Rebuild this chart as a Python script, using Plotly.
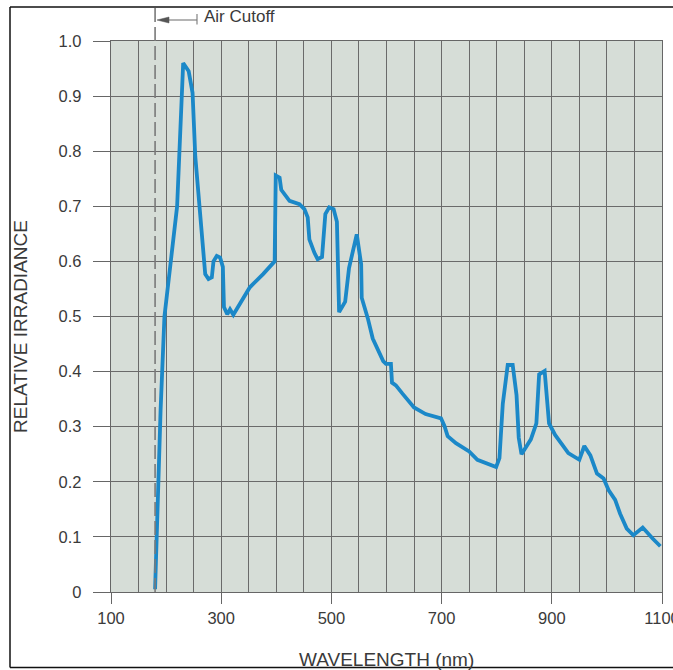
import plotly.graph_objects as go

# ---- data ----
wavelength_nm = [180, 185, 190, 197, 220, 231, 241, 248, 253, 271, 277, 283, 286, 292, 298,
                 303, 305, 311, 316, 322, 334, 352, 376, 397, 399, 406, 409, 424, 442, 451,
                 457, 460, 469, 475, 483, 489, 496, 504, 510, 514, 525, 532, 546, 554, 555,
                 563, 566, 575, 587, 594, 599, 608, 610, 617, 629, 650, 671, 699, 705, 711,
                 726, 750, 765, 786, 799, 805, 811, 820, 829, 836, 840, 845, 853, 862, 872,
                 877, 887, 891, 895, 906, 930, 950, 959, 970, 982, 994, 1003, 1015, 1024,
                 1036, 1048, 1065, 1072, 1083, 1097]
relative_irradiance = [0.005, 0.20, 0.33, 0.50, 0.70, 0.96, 0.945, 0.906, 0.79, 0.577, 0.568,
                       0.571, 0.60, 0.61, 0.607, 0.59, 0.517, 0.504, 0.513, 0.503, 0.523, 0.553,
                       0.577, 0.600, 0.756, 0.752, 0.73, 0.71, 0.704, 0.695, 0.68, 0.64, 0.616,
                       0.604, 0.608, 0.686, 0.698, 0.695, 0.672, 0.508, 0.527, 0.588, 0.649,
                       0.595, 0.534, 0.509, 0.497, 0.46, 0.436, 0.419, 0.414, 0.414, 0.38,
                       0.375, 0.36, 0.335, 0.323, 0.315, 0.302, 0.283, 0.27, 0.255, 0.24, 0.233,
                       0.227, 0.243, 0.341, 0.412, 0.412, 0.357, 0.28, 0.25, 0.262, 0.277, 0.306,
                       0.395, 0.401, 0.36, 0.306, 0.285, 0.252, 0.24, 0.265, 0.248, 0.215, 0.206,
                       0.185, 0.167, 0.142, 0.115, 0.103, 0.117, 0.109, 0.097, 0.083]

x_tick_values = [100, 300, 500, 700, 900, 1100]
x_tick_labels = ["100", "300", "500", "700", "900", "1100"]
y_tick_values = [0, 0.1, 0.2, 0.3, 0.4, 0.5, 0.6, 0.7, 0.8, 0.9, 1.0]
y_tick_labels = ["0", "0.1", "0.2", "0.3", "0.4", "0.5", "0.6", "0.7", "0.8", "0.9", "1.0"]
air_cutoff_nm = 180

x_title = "WAVELENGTH (nm)"
y_title = "RELATIVE IRRADIANCE"
cutoff_label = "Air Cutoff"

# ---- layout geometry (pixels) ----
W, H = 673, 670
L, R, T, B = 111, 11, 41, 78
PW = W - L - R
PH = H - T - B


def px_x(px):
    return (px - L) / PW


def px_y(py):
    return (H - B - py) / PH


FONT = "Liberation Sans, Arial, Helvetica, sans-serif"
TXT = "#3a3a3a"
GRID = "#6a6a6a"

fig = go.Figure()
fig.add_trace(go.Scatter(
    x=wavelength_nm, y=relative_irradiance, mode="lines",
    line=dict(color="#1b88c8", width=3.8), hoverinfo="x+y", showlegend=False,
))

shapes = [
    # air cutoff dashed line
    dict(type="line", xref="x", yref="paper", x0=air_cutoff_nm, x1=air_cutoff_nm,
         y0=0, y1=px_y(8), line=dict(color="#7a7a7a", width=1.6, dash="14px,5px")),
    # arrow shaft
    dict(type="line", xref="paper", yref="paper", x0=px_x(167), x1=px_x(197),
         y0=px_y(20), y1=px_y(20), line=dict(color="#777777", width=1.1)),
    # tail bar
    dict(type="line", xref="paper", yref="paper", x0=px_x(197), x1=px_x(197),
         y0=px_y(14), y1=px_y(24.5), line=dict(color="#777777", width=1.1)),
    # arrow head
    dict(type="path", xref="paper", yref="paper",
         path=f"M {px_x(157)} {px_y(20)} L {px_x(169)} {px_y(17)} L {px_x(169)} {px_y(23)} Z",
         fillcolor="#555555", line=dict(color="#555555", width=0.5)),
    # outer frame lines
    dict(type="line", xref="paper", yref="paper", x0=px_x(10), x1=px_x(680),
         y0=px_y(7), y1=px_y(7), line=dict(color="#111111", width=1.5)),
    dict(type="line", xref="paper", yref="paper", x0=px_x(10), x1=px_x(10),
         y0=px_y(7), y1=px_y(667.5), line=dict(color="#111111", width=1.5)),
    dict(type="line", xref="paper", yref="paper", x0=px_x(10), x1=px_x(680),
         y0=px_y(667.5), y1=px_y(667.5), line=dict(color="#111111", width=1.5)),
]

annotations = [
    dict(text=cutoff_label, xref="paper", yref="paper", x=px_x(202), y=px_y(17),
         xanchor="left", yanchor="middle", showarrow=False,
         font=dict(family=FONT, size=17, color=TXT)),
    dict(text=x_title, xref="paper", yref="paper", x=px_x(386), y=px_y(659),
         xanchor="center", yanchor="middle", showarrow=False,
         font=dict(family=FONT, size=19, color=TXT)),
    dict(text=y_title, xref="paper", yref="paper", x=px_x(20), y=px_y(327),
         xanchor="center", yanchor="middle", showarrow=False, textangle=-90,
         font=dict(family=FONT, size=19, color=TXT)),
]

fig.update_layout(
    width=W, height=H, margin=dict(l=L, r=R, t=T, b=B, pad=0),
    template="none",
    paper_bgcolor="white", plot_bgcolor="#d6ddd7",
    shapes=shapes, annotations=annotations,
    font=dict(family=FONT, size=16.5, color=TXT),
    xaxis=dict(
        range=[100, 1100], tickmode="array", tickvals=x_tick_values, ticktext=x_tick_labels,
        ticks="outside", ticklen=11, tickwidth=1.3, tickcolor="#666666",
        showgrid=True, gridcolor=GRID, gridwidth=1,
        minor=dict(tickmode="linear", tick0=100, dtick=50, showgrid=True,
                   gridcolor=GRID, gridwidth=1, ticks=""),
        showline=True, linecolor="#666666", linewidth=1.3, mirror=True,
        zeroline=False, automargin=False, fixedrange=True, ticklabeloverflow="allow",
        tickfont=dict(family=FONT, size=16.5, color=TXT),
    ),
    yaxis=dict(
        range=[0, 1], tickmode="array", tickvals=y_tick_values, ticktext=y_tick_labels,
        ticks="outside", ticklen=17, tickwidth=1.3, tickcolor="#666666",
        showgrid=True, gridcolor=GRID, gridwidth=1,
        showline=True, linecolor="#666666", linewidth=1.3, mirror=True,
        zeroline=False, automargin=False, fixedrange=True, ticklabelstandoff=8,
        tickfont=dict(family=FONT, size=16.5, color=TXT),
    ),
)

fig.write_html(
    "out.html",
    config={"displayModeBar": False},
    post_script="document.body.style.margin='0';document.body.style.overflow='hidden';",
)
